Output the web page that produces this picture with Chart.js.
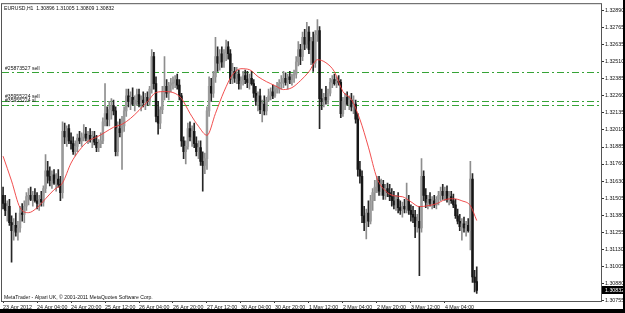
<!DOCTYPE html>
<html>
<head>
<meta charset="utf-8">
<style>
  html, body { margin: 0; padding: 0; background: #fff; }
  #wrap { width: 625px; height: 313px; }
</style>
</head>
<body>
<div id="wrap"><canvas id="mtChart" width="625" height="313"></canvas></div>

<script src="https://cdn.jsdelivr.net/npm/chart.js"></script>
<script>
// EURUSD H1 bars, 23 Apr 2012 12:00 .. 4 May 2012 19:00 (224 bars)
const opens = [
  1.3153,1.3147,1.3142,1.3145,1.3133,1.3127,1.3131,1.3126,1.3129,1.3140,1.3139,1.3145,1.3152,1.3153,1.3150,1.3153,
  1.3149,1.3147,1.3150,1.3148,1.3158,1.3171,1.3167,1.3164,1.3168,1.3162,1.3165,1.3161,1.3155,1.3200,1.3196,1.3202,
  1.3193,1.3191,1.3185,1.3189,1.3195,1.3193,1.3196,1.3198,1.3195,1.3197,1.3194,1.3196,1.3192,1.3188,1.3191,1.3193,
  1.3207,1.3213,1.3209,1.3216,1.3219,1.3215,1.3185,1.3202,1.3199,1.3204,1.3215,1.3226,1.3222,1.3225,1.3220,1.3223,
  1.3227,1.3220,1.3223,1.3221,1.3225,1.3222,1.3231,1.3255,1.3235,1.3211,1.3206,1.3216,1.3229,1.3233,1.3228,1.3234,
  1.3235,1.3236,1.3238,1.3234,1.3226,1.3193,1.3185,1.3189,1.3202,1.3196,1.3200,1.3191,1.3185,1.3188,1.3178,1.3175,
  1.3180,1.3215,1.3233,1.3228,1.3240,1.3255,1.3250,1.3257,1.3251,1.3258,1.3262,1.3257,1.3238,1.3244,1.3239,1.3242,
  1.3235,1.3237,1.3241,1.3238,1.3236,1.3239,1.3235,1.3228,1.3222,1.3226,1.3216,1.3220,1.3215,1.3223,1.3226,1.3229,
  1.3226,1.3231,1.3231,1.3235,1.3236,1.3239,1.3236,1.3240,1.3238,1.3241,1.3242,1.3251,1.3260,1.3255,1.3269,1.3264,
  1.3273,1.3260,1.3266,1.3250,1.3271,1.3274,1.3224,1.3222,1.3225,1.3223,1.3228,1.3236,1.3238,1.3235,1.3237,1.3236,
  1.3213,1.3222,1.3225,1.3220,1.3223,1.3218,1.3220,1.3209,1.3172,1.3167,1.3138,1.3133,1.3140,1.3134,1.3149,1.3155,
  1.3159,1.3164,1.3156,1.3161,1.3153,1.3158,1.3155,1.3152,1.3149,1.3146,1.3150,1.3144,1.3142,1.3145,1.3143,1.3149,
  1.3142,1.3139,1.3137,1.3130,1.3134,1.3129,1.3167,1.3153,1.3148,1.3150,1.3147,1.3149,1.3146,1.3150,1.3153,1.3156,
  1.3153,1.3156,1.3150,1.3152,1.3149,1.3146,1.3138,1.3134,1.3130,1.3132,1.3129,1.3131,1.3127,1.3165,1.3093,1.30896
];
const highs = [
  1.3159,1.3153,1.3149,1.3150,1.3138,1.3136,1.3140,1.3134,1.3145,1.3147,1.3149,1.3155,1.3158,1.3159,1.3156,1.3158,
  1.3155,1.3153,1.3156,1.3160,1.3183,1.3178,1.3174,1.3171,1.3172,1.3169,1.3172,1.3167,1.3207,1.3206,1.3204,1.3205,
  1.3199,1.3196,1.3193,1.3198,1.3200,1.3199,1.3205,1.3203,1.3200,1.3202,1.3200,1.3200,1.3197,1.3194,1.3199,1.3210,
  1.3235,1.3218,1.3222,1.3224,1.3223,1.3218,1.3207,1.3209,1.3211,1.3218,1.3231,1.3231,1.3229,1.3232,1.3226,1.3231,
  1.3231,1.3226,1.3229,1.3228,1.3229,1.3233,1.3260,1.3258,1.3240,1.3222,1.3218,1.3233,1.3255,1.3238,1.3236,1.3239,
  1.3240,1.3241,1.3242,1.3238,1.3228,1.3196,1.3193,1.3206,1.3207,1.3204,1.3206,1.3196,1.3193,1.3193,1.3185,1.3184,
  1.3218,1.3240,1.3239,1.3244,1.3269,1.3262,1.3260,1.3262,1.3260,1.3267,1.3266,1.3260,1.3250,1.3247,1.3247,1.3245,
  1.3240,1.3244,1.3245,1.3244,1.3242,1.3244,1.3238,1.3233,1.3229,1.3231,1.3223,1.3226,1.3225,1.3231,1.3232,1.3234,
  1.3233,1.3236,1.3238,1.3241,1.3244,1.3243,1.3242,1.3244,1.3242,1.3245,1.3255,1.3266,1.3264,1.3273,1.3275,1.3280,
  1.3277,1.3269,1.3273,1.3274,1.3282,1.3277,1.3231,1.3228,1.3233,1.3231,1.3239,1.3241,1.3242,1.3240,1.3241,1.3238,
  1.3225,1.3228,1.3229,1.3226,1.3228,1.3226,1.3223,1.3213,1.3178,1.3171,1.3145,1.3143,1.3149,1.3153,1.3158,1.3164,
  1.3167,1.3167,1.3165,1.3164,1.3161,1.3162,1.3161,1.3158,1.3156,1.3153,1.3155,1.3149,1.3148,1.3150,1.3162,1.3153,
  1.3146,1.3145,1.3142,1.3139,1.3145,1.3180,1.3171,1.3158,1.3153,1.3155,1.3152,1.3153,1.3152,1.3156,1.3159,1.3161,
  1.3159,1.3160,1.3156,1.3156,1.3154,1.3150,1.3143,1.3139,1.3136,1.3137,1.3134,1.3136,1.3178,1.3169,1.3098,1.31005
];
const lows = [
  1.3143,1.3138,1.3134,1.3131,1.3104,1.3120,1.3123,1.3120,1.3126,1.3134,1.3133,1.3142,1.3146,1.3149,1.3145,1.3148,
  1.3143,1.3142,1.3145,1.3145,1.3155,1.3162,1.3160,1.3158,1.3161,1.3156,1.3159,1.3149,1.3151,1.3191,1.3189,1.3191,
  1.3187,1.3183,1.3182,1.3185,1.3191,1.3189,1.3193,1.3193,1.3191,1.3192,1.3188,1.3190,1.3185,1.3185,1.3188,1.3191,
  1.3204,1.3204,1.3204,1.3209,1.3212,1.3182,1.3182,1.3196,1.3172,1.3200,1.3211,1.3218,1.3216,1.3219,1.3215,1.3219,
  1.3218,1.3215,1.3218,1.3216,1.3219,1.3219,1.3228,1.3231,1.3207,1.3198,1.3202,1.3213,1.3223,1.3225,1.3223,1.3229,
  1.3231,1.3232,1.3231,1.3223,1.3189,1.3180,1.3176,1.3187,1.3193,1.3189,1.3188,1.3182,1.3180,1.3175,1.3156,1.3169,
  1.3172,1.3211,1.3222,1.3225,1.3236,1.3244,1.3245,1.3247,1.3247,1.3252,1.3253,1.3235,1.3235,1.3236,1.3235,1.3231,
  1.3231,1.3234,1.3235,1.3232,1.3231,1.3234,1.3225,1.3219,1.3215,1.3213,1.3207,1.3212,1.3212,1.3222,1.3223,1.3224,
  1.3225,1.3228,1.3228,1.3231,1.3232,1.3234,1.3231,1.3235,1.3234,1.3236,1.3239,1.3248,1.3249,1.3252,1.3260,1.3261,
  1.3257,1.3249,1.3244,1.3247,1.3266,1.3202,1.3216,1.3218,1.3220,1.3220,1.3226,1.3232,1.3234,1.3232,1.3234,1.3210,
  1.3211,1.3216,1.3219,1.3216,1.3215,1.3213,1.3206,1.3167,1.3162,1.3133,1.3127,1.3121,1.3130,1.3132,1.3142,1.3149,
  1.3155,1.3153,1.3153,1.3150,1.3150,1.3152,1.3149,1.3145,1.3143,1.3142,1.3140,1.3139,1.3137,1.3140,1.3140,1.3139,
  1.3134,1.3133,1.3122,1.3126,1.3094,1.3126,1.3149,1.3144,1.3143,1.3145,1.3143,1.3144,1.3143,1.3146,1.3149,1.3150,
  1.3149,1.3148,1.3146,1.3147,1.3144,1.3136,1.3132,1.3127,1.3120,1.3126,1.3123,1.3126,1.3113,1.3089,1.3082,1.30809
];
const closes = [
  1.3147,1.3142,1.3145,1.3133,1.3127,1.3131,1.3126,1.3129,1.3140,1.3139,1.3145,1.3152,1.3153,1.3150,1.3153,1.3149,
  1.3147,1.3150,1.3148,1.3158,1.3171,1.3167,1.3164,1.3168,1.3162,1.3165,1.3161,1.3155,1.3200,1.3196,1.3202,1.3193,
  1.3191,1.3185,1.3189,1.3195,1.3193,1.3196,1.3198,1.3195,1.3197,1.3194,1.3196,1.3192,1.3188,1.3191,1.3193,1.3207,
  1.3213,1.3209,1.3216,1.3219,1.3215,1.3185,1.3202,1.3199,1.3204,1.3215,1.3226,1.3222,1.3225,1.3220,1.3223,1.3227,
  1.3220,1.3223,1.3221,1.3225,1.3222,1.3231,1.3255,1.3235,1.3211,1.3206,1.3216,1.3229,1.3233,1.3228,1.3234,1.3235,
  1.3236,1.3238,1.3234,1.3226,1.3193,1.3185,1.3189,1.3202,1.3196,1.3200,1.3191,1.3185,1.3188,1.3178,1.3175,1.3180,
  1.3215,1.3233,1.3228,1.3240,1.3255,1.3250,1.3257,1.3251,1.3258,1.3262,1.3257,1.3238,1.3244,1.3239,1.3242,1.3235,
  1.3237,1.3241,1.3238,1.3236,1.3239,1.3235,1.3228,1.3222,1.3226,1.3216,1.3220,1.3215,1.3223,1.3226,1.3229,1.3226,
  1.3231,1.3231,1.3235,1.3236,1.3239,1.3236,1.3240,1.3238,1.3241,1.3242,1.3251,1.3260,1.3255,1.3269,1.3264,1.3273,
  1.3260,1.3266,1.3250,1.3271,1.3274,1.3224,1.3222,1.3225,1.3223,1.3228,1.3236,1.3238,1.3235,1.3237,1.3236,1.3213,
  1.3222,1.3225,1.3220,1.3223,1.3218,1.3220,1.3209,1.3172,1.3167,1.3138,1.3133,1.3140,1.3134,1.3149,1.3155,1.3159,
  1.3164,1.3156,1.3161,1.3153,1.3158,1.3155,1.3152,1.3149,1.3146,1.3150,1.3144,1.3142,1.3145,1.3143,1.3149,1.3142,
  1.3139,1.3137,1.3130,1.3134,1.3129,1.3167,1.3153,1.3148,1.3150,1.3147,1.3149,1.3146,1.3150,1.3153,1.3156,1.3153,
  1.3156,1.3150,1.3152,1.3149,1.3146,1.3138,1.3134,1.3130,1.3132,1.3129,1.3131,1.3127,1.3165,1.3093,1.3089,1.30832
];

// red moving average, read at every 4th bar
const maBars = [0,4,8,12,16,20,24,28,32,36,40,44,48,52,56,60,64,68,72,76,80,84,88,92,96,100,104,108,
  112,116,120,124,128,132,136,140,144,148,152,156,160,164,168,172,176,180,184,188,192,196,200,204,208,212,216,220,223];
const maValues = [1.31818,1.31636,1.31439,1.31403,1.31439,1.31505,1.31571,1.31622,1.31767,1.31862,1.31928,1.31957,
  1.31993,1.32030,1.32052,1.32095,1.32154,1.32219,1.32285,1.32292,1.32285,1.32241,1.32132,1.32037,1.31971,1.32132,
  1.32292,1.32416,1.32460,1.32453,1.32402,1.32365,1.32336,1.32307,1.32321,1.32372,1.32438,1.32526,1.32504,1.32438,
  1.32292,1.32234,1.32088,1.31884,1.31658,1.31563,1.31527,1.31520,1.31483,1.31447,1.31454,1.31468,1.31498,1.31505,
  1.31490,1.31454,1.31345];

// order levels (green dash-dot lines)
const orderLevels = [1.32433, 1.32226, 1.32195];
const orderNames = ['#25873527 sell', '#35955224 sell', '#35955224 sl'];

// axis labels
const tickLabels = ['23 Apr 2012', '24 Apr 04:00', '24 Apr 20:00', '25 Apr 12:00', '26 Apr 04:00', '26 Apr 20:00',
  '27 Apr 12:00', '30 Apr 04:00', '30 Apr 20:00', '1 May 12:00', '2 May 04:00', '2 May 20:00', '3 May 12:00', '4 May 04:00'];
const tickStep = 16;
const yTicks = [1.32890, 1.32765, 1.32635, 1.32510, 1.32385, 1.32260, 1.32135, 1.32010, 1.31885,
  1.31760, 1.31630, 1.31505, 1.31380, 1.31255, 1.31130, 1.31005, 1.30880, 1.30755];
const yMin = 1.30754, yMax = 1.32934;
const slotCount = 282; // bars plus empty shift on the right

const headerText = 'EURUSD,H1  1.30896 1.31005 1.30809 1.30832';
const footerText = 'MetaTrader - Alpari UK, \u00a9 2001-2011 MetaQuotes Software Corp.';

const slots = Array.from({ length: slotCount }, (_, i) => i);
const isUp = i => closes[i] >= opens[i];
const wickData = highs.map((h, i) => [lows[i], h]);
const bodyData = opens.map((o, i) => [Math.min(o, closes[i]), Math.max(o, closes[i])]);
const maLine = slots.map(() => null);
maBars.forEach((b, k) => { maLine[b] = maValues[k]; });

const FONT = 'Liberation Sans';
Chart.defaults.font.family = FONT;
Chart.defaults.font.size = 5.3;
Chart.defaults.color = '#111';

const mtDecor = {
  id: 'mtDecor',
  beforeDatasetsDraw(chart) {
    const { ctx, chartArea: a, scales: { y } } = chart;
    ctx.save();
    ctx.strokeStyle = '#36a336';
    ctx.lineWidth = 1;
    ctx.setLineDash([7, 3, 2, 3]);
    orderLevels.forEach(v => {
      const py = Math.round(y.getPixelForValue(v)) + 0.5;
      ctx.beginPath();
      ctx.moveTo(a.left, py);
      ctx.lineTo(a.right, py);
      ctx.stroke();
    });
    ctx.restore();
  },
  afterDraw(chart) {
    const { ctx, chartArea: a, scales: { y } } = chart;
    ctx.save();
    // frame
    ctx.strokeStyle = '#555';
    ctx.lineWidth = 1;
    ctx.strokeRect(a.left - 0.5, a.top - 0.5, a.right - a.left + 1, a.bottom - a.top + 1);

    ctx.fillStyle = '#111';
    ctx.font = '5.1px "' + FONT + '"';
    ctx.textBaseline = 'top';
    ctx.fillText(headerText, a.left + 2, a.top + 2);
    ctx.textBaseline = 'bottom';
    ctx.fillText(footerText, a.left + 2, a.bottom - 1);

    orderLevels.forEach((v, k) => {
      const py = y.getPixelForValue(v);
      ctx.fillText(orderNames[k], a.left + 3, py - 1.5);
    });

    // current price box
    const last = closes[closes.length - 1];
    const py = Math.round(y.getPixelForValue(last));
    ctx.fillStyle = '#000';
    ctx.fillRect(a.right + 1, py - 4, chart.width - a.right - 3, 8);
    ctx.fillStyle = '#fff';
    ctx.font = '5.3px "' + FONT + '"';
    ctx.textBaseline = 'middle';
    ctx.fillText(last.toFixed(5), a.right + 4, py + 0.5);

    // window edge
    ctx.fillStyle = '#000';
    ctx.fillRect(0, chart.height - 4, chart.width, 4);
    ctx.fillRect(chart.width - 2, 0, 2, chart.height);
    ctx.restore();
  }
};

new Chart(document.getElementById('mtChart'), {
  type: 'bar',
  data: {
    labels: slots,
    datasets: [
      {
        type: 'line',
        data: maLine,
        order: 0,
        spanGaps: true,
        borderColor: 'rgba(240,60,60,0.9)',
        borderWidth: 1,
        pointRadius: 0,
        cubicInterpolationMode: 'monotone'
      },
      {
        data: bodyData,
        order: 1,
        grouped: false,
        barThickness: 1.8,
        minBarLength: 1,
        borderWidth: 0,
        backgroundColor: ctx => isUp(ctx.dataIndex) ? '#9a9a9a' : '#161616'
      },
      {
        data: wickData,
        order: 2,
        grouped: false,
        barThickness: 1,
        borderWidth: 0,
        backgroundColor: ctx => isUp(ctx.dataIndex) ? '#8e8e8e' : '#262626'
      }
    ]
  },
  options: {
    responsive: false,
    devicePixelRatio: 1,
    animation: false,
    events: [],
    layout: { padding: { left: 2, top: 2, right: 0, bottom: 0 } },
    plugins: { legend: { display: false }, tooltip: { enabled: false } },
    scales: {
      x: {
        type: 'category',
        offset: true,
        grid: { display: true, drawOnChartArea: false, offset: false, tickLength: 2, color: '#333' },
        border: { display: false },
        ticks: {
          autoSkip: false,
          maxRotation: 0,
          minRotation: 0,
          align: 'start',
          padding: 1,
          callback: v => tickLabels[v / tickStep]
        },
        afterBuildTicks: s => {
          s.ticks = s.ticks.filter(t => t.value % tickStep === 0 && t.value / tickStep < tickLabels.length);
        },
        afterFit: s => { s.height = 12; }
      },
      y: {
        position: 'right',
        min: yMin,
        max: yMax,
        grid: { display: true, drawOnChartArea: false, tickLength: 3, color: '#333' },
        border: { display: false },
        ticks: {
          autoSkip: false,
          padding: 1,
          callback: v => v.toFixed(5)
        },
        afterBuildTicks: s => { s.ticks = yTicks.map(v => ({ value: v })); },
        afterFit: s => { s.width = 24; }
      }
    }
  },
  plugins: [mtDecor]
});
</script>
</body>
</html>
